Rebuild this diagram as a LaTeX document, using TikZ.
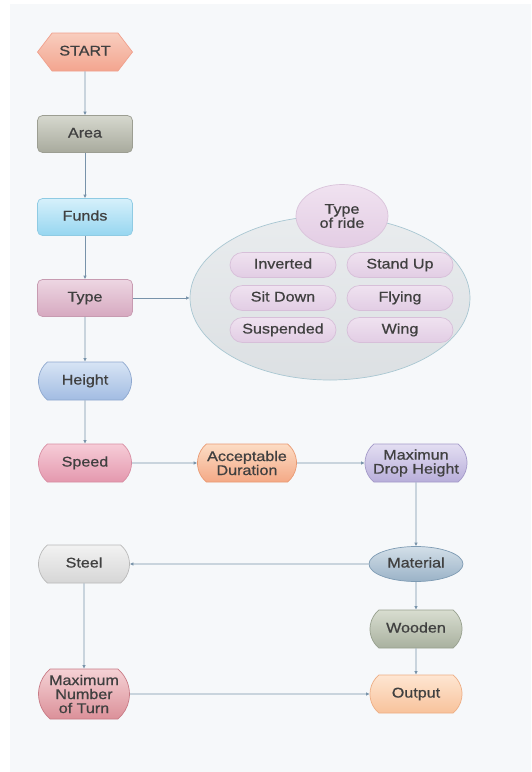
\documentclass[tikz,border=0pt]{standalone}
\usepackage{fontspec}
\setmainfont{Liberation Sans}[FakeStretch=1.15,FakeBold=0.8]
\usetikzlibrary{shapes.geometric,shapes.misc,shapes.symbols,arrows.meta}
\definecolor{bgc}{HTML}{F6F8FA}
\definecolor{linec}{HTML}{7893AA}
\definecolor{txt}{HTML}{404040}
\definecolor{pillB}{HTML}{D7BFD9}\definecolor{pillT}{HTML}{EFE2F0}\definecolor{pillM}{HTML}{E2CDE4}
\definecolor{stA}{HTML}{F0A08C}\definecolor{stB}{HTML}{F8CDBE}\definecolor{stC}{HTML}{F3A58F}
\definecolor{arA}{HTML}{9C9E92}\definecolor{arB}{HTML}{D6D8CE}\definecolor{arC}{HTML}{A8AA9D}
\definecolor{fuA}{HTML}{8FCBE3}\definecolor{fuB}{HTML}{D6F0FB}\definecolor{fuC}{HTML}{96D6F0}
\definecolor{tyA}{HTML}{C79BB1}\definecolor{tyB}{HTML}{EDD6E2}\definecolor{tyC}{HTML}{D6A9C0}
\definecolor{heA}{HTML}{8EA8CF}\definecolor{heB}{HTML}{D7E4F5}\definecolor{heC}{HTML}{A2BCE2}
\definecolor{spA}{HTML}{D88EA3}\definecolor{spB}{HTML}{F6CCD7}\definecolor{spC}{HTML}{E498AE}
\definecolor{acA}{HTML}{E99A73}\definecolor{acB}{HTML}{FCDCC4}\definecolor{acC}{HTML}{F4A986}
\definecolor{drA}{HTML}{A49AC9}\definecolor{drB}{HTML}{E3DEF2}\definecolor{drC}{HTML}{B8AEDA}
\definecolor{maA}{HTML}{7E9BB3}\definecolor{maB}{HTML}{D3DFE8}\definecolor{maC}{HTML}{9AB2C7}
\definecolor{seA}{HTML}{B9B9B9}\definecolor{seB}{HTML}{F2F2F2}\definecolor{seC}{HTML}{D6D6D6}
\definecolor{woA}{HTML}{97A08E}\definecolor{woB}{HTML}{D8DDD0}\definecolor{woC}{HTML}{A9B19F}
\definecolor{ouA}{HTML}{EDAE85}\definecolor{ouB}{HTML}{FEE6D2}\definecolor{ouC}{HTML}{F8C29B}
\definecolor{tuA}{HTML}{C87B86}\definecolor{tuB}{HTML}{F5D2D5}\definecolor{tuC}{HTML}{DB9099}
\definecolor{riA}{HTML}{A9C7D2}\definecolor{riB}{HTML}{E9ECEE}\definecolor{riC}{HTML}{DCE0E3}
\definecolor{rtA}{HTML}{D9C3DA}\definecolor{rtB}{HTML}{F0E2F0}\definecolor{rtC}{HTML}{E3CDE4}
\begin{document}
\begin{tikzpicture}[x=1pt,y=-1pt,
  base/.style={draw, line width=0.7pt, text=txt, align=center, inner sep=1pt,
    font=\fontsize{14}{14}\selectfont},
  one/.style={text height=10pt, text depth=3pt},
  rbox/.style={base, one, rectangle, rounded corners=5pt, minimum width=95pt, minimum height=37pt},
  cbox/.style={base, rounded rectangle, rounded rectangle arc length=100, minimum width=95pt, minimum height=38pt},
  pill/.style={base, one, rounded rectangle, minimum width=108pt, minimum height=25pt,
    draw=pillB, top color=pillT, bottom color=pillM},
  conn/.style={draw=linec, line width=0.8pt, -{Latex[length=3.5pt,width=3.5pt]}},
  shd/.style={draw=#1A, top color=#1B, bottom color=#1C}
]
\useasboundingbox (0,0) rectangle (531,772);
\fill[white] (0,0) rectangle (531,772);
\fill[bgc] (10,4) rectangle (531,772);

% left column
\node[base, one, signal, signal to=west and east, signal pointer angle=105,
  minimum width=95pt, minimum height=38pt, shd=st] (start) at (85,52) {START};
\node[rbox, shd=ar] (area) at (85,134) {Area};
\node[rbox, shd=fu] (funds) at (85,217) {Funds};
\node[rbox, shd=ty] (type) at (85,298) {Type};
\node[cbox, one, shd=he] (height) at (85,381) {Height};
\node[cbox, one, shd=sp] (speed) at (85,463) {Speed};
\node[cbox, minimum width=101pt, shd=ac] (accept) at (247,463) {Acceptable\\Duration};
\node[cbox, minimum width=104pt, shd=dr] (drop) at (416,463) {Maximun\\Drop Height};
\node[base, one, ellipse, minimum width=94pt, minimum height=35pt, shd=ma] (material) at (416,564) {Material};
\node[cbox, one, minimum width=93pt, shd=se] (steel) at (84,564) {Steel};
\node[cbox, one, minimum width=94pt, shd=wo] (wooden) at (416,629) {Wooden};
\node[cbox, one, minimum width=94pt, shd=ou] (output) at (416,694) {Output};
\node[cbox, minimum width=93pt, minimum height=50pt, shd=tu] (turn) at (84,694) {Maximum\\Number\\of Turn};

% type of ride group
\node[base, ellipse, minimum width=280pt, minimum height=164pt, shd=ri] (rides) at (330,298) {};
\node[base, ellipse, minimum width=92pt, minimum height=63pt, shd=rt, font=\fontsize{14}{13}\selectfont] (rtitle) at (342,216) {Type\\of ride};
\node[pill] (inv) at (283,265) {Inverted};
\node[pill] (stand) at (400,265) {Stand Up};
\node[pill] (sit) at (283,298) {Sit Down};
\node[pill] (fly) at (400,298) {Flying};
\node[pill] (susp) at (283,330) {Suspended};
\node[pill] (wing) at (400,330) {Wing};

% connectors
\draw[conn] (start) -- (area);
\draw[conn] (area) -- (funds);
\draw[conn] (funds) -- (type);
\draw[conn] (type) -- (height);
\draw[conn] (height) -- (speed);
\draw[conn] (type.east) -- (rides.west);
\draw[conn] (speed) -- (accept);
\draw[conn] (accept) -- (drop);
\draw[conn] (drop) -- (material);
\draw[conn] (material) -- (steel);
\draw[conn] (material) -- (wooden);
\draw[conn] (steel) -- (turn);
\draw[conn] (wooden) -- (output);
\draw[conn] (turn) -- (output);
\end{tikzpicture}
\end{document}
